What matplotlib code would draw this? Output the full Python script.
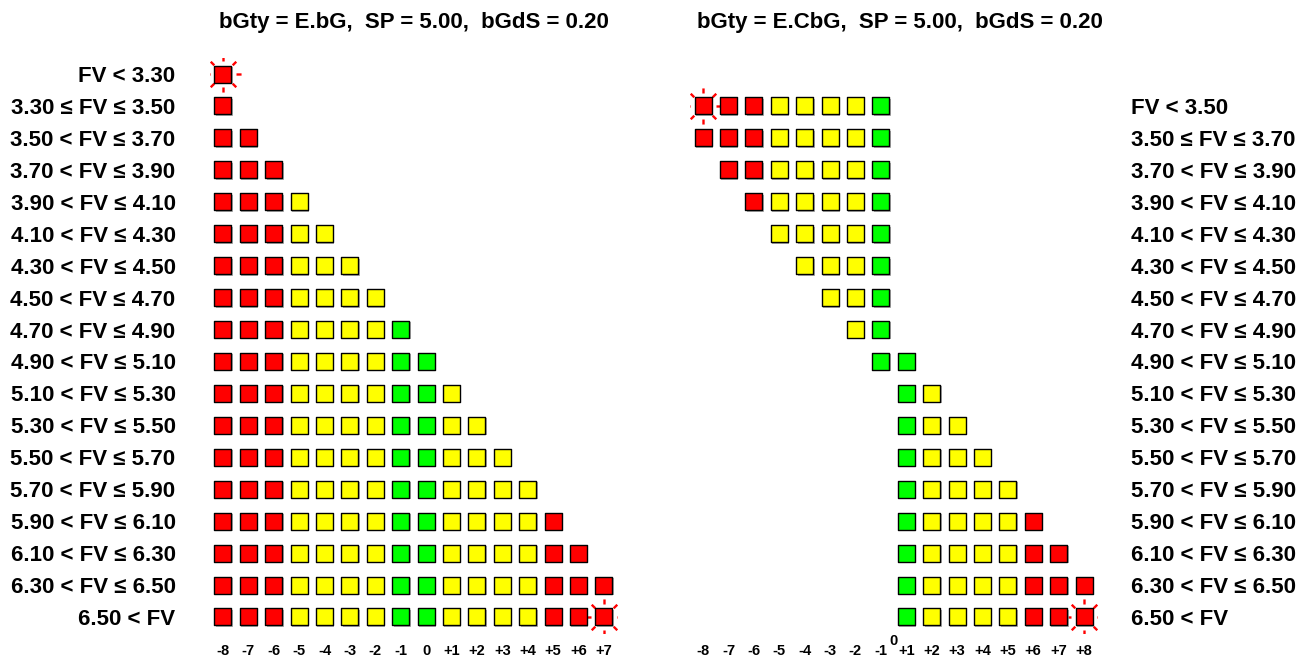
import matplotlib
matplotlib.use("Agg")
import numpy as np
import matplotlib.pyplot as plt
import matplotlib.patheffects as pe
from matplotlib.path import Path

plt.rcParams["font.family"] = ["Liberation Sans", "DejaVu Sans"]
plt.rcParams["font.weight"] = "bold"

# colours used for the grade of each column
palette = {"R": "#FF0000", "Y": "#FFFF00", "G": "#00FF00"}

# left panel
left_title = "bGty = E.bG,  SP = 5.00,  bGdS = 0.20"
left_rows = ["FV < 3.30", "3.30 ≤ FV ≤ 3.50", "3.50 < FV ≤ 3.70", "3.70 < FV ≤ 3.90",
             "3.90 < FV ≤ 4.10", "4.10 < FV ≤ 4.30", "4.30 < FV ≤ 4.50", "4.50 < FV ≤ 4.70",
             "4.70 < FV ≤ 4.90", "4.90 < FV ≤ 5.10", "5.10 < FV ≤ 5.30", "5.30 < FV ≤ 5.50",
             "5.50 < FV ≤ 5.70", "5.70 < FV ≤ 5.90", "5.90 < FV ≤ 6.10", "6.10 < FV ≤ 6.30",
             "6.30 < FV ≤ 6.50", "6.50 < FV"]
left_cols = [-8, -7, -6, -5, -4, -3, -2, -1, 0, 1, 2, 3, 4, 5, 6, 7]
left_grades = ["R", "R", "R", "Y", "Y", "Y", "Y", "G", "G", "Y", "Y", "Y", "Y", "R", "R", "R"]
left_first = [-8] * 18
left_last = [-8, -8, -7, -6, -5, -4, -3, -2, -1, 0, 1, 2, 3, 4, 5, 6, 7, 7]
left_bursts = [(0, -8), (17, 7)]  # (row, column)

# right panel
right_title = "bGty = E.CbG,  SP = 5.00,  bGdS = 0.20"
right_rows = ["FV < 3.50", "3.50 ≤ FV ≤ 3.70", "3.70 < FV ≤ 3.90", "3.90 < FV ≤ 4.10",
              "4.10 < FV ≤ 4.30", "4.30 < FV ≤ 4.50", "4.50 < FV ≤ 4.70", "4.70 < FV ≤ 4.90",
              "4.90 < FV ≤ 5.10", "5.10 < FV ≤ 5.30", "5.30 < FV ≤ 5.50", "5.50 < FV ≤ 5.70",
              "5.70 < FV ≤ 5.90", "5.90 < FV ≤ 6.10", "6.10 < FV ≤ 6.30", "6.30 < FV ≤ 6.50",
              "6.50 < FV"]
right_cols = [-8, -7, -6, -5, -4, -3, -2, -1, 1, 2, 3, 4, 5, 6, 7, 8]
right_grades = ["R", "R", "R", "Y", "Y", "Y", "Y", "G", "G", "Y", "Y", "Y", "Y", "R", "R", "R"]
right_first = [-8, -8, -7, -6, -5, -4, -3, -2, -1, 1, 1, 1, 1, 1, 1, 1, 1]
right_last = [-1, -1, -1, -1, -1, -1, -1, -1, 1, 2, 3, 4, 5, 6, 7, 8, 8]
right_bursts = [(0, -8), (16, 8)]

# starburst marker: 8 short rays
verts, codes = [], []
for a in np.deg2rad(np.arange(0, 360, 45)):
    verts += [(0.72 * np.cos(a), 0.72 * np.sin(a)), (np.cos(a), np.sin(a))]
    codes += [Path.MOVETO, Path.LINETO]
burst = Path(verts, codes)


def col_label(c):
    return "+%d" % c if c > 0 else str(c)


def draw_panel(ax, title, rows, cols, grades, first, last, bursts, title_x):
    xs, ys, cs = [], [], []
    for r in range(len(rows)):
        for i, c in enumerate(cols):
            if first[r] <= c <= last[r]:
                xs.append(i)
                ys.append(r)
                cs.append(palette[grades[i]])
    ax.scatter(xs, ys, s=150, marker="s", c=cs, edgecolors="black", linewidths=1.0,
               zorder=3,
               path_effects=[pe.SimplePatchShadow(offset=(1.0, -1.0), shadow_rgbFace="#999999", alpha=0.8),
                             pe.Normal()])
    for r, c in bursts:
        ax.plot(cols.index(c), r, marker=burst, markersize=26, color="#FF0000",
                markeredgewidth=1.7, linestyle="none", zorder=2)
    ax.set_xlim(-0.5, len(cols) - 0.5)
    ax.set_xticks(range(len(cols)), [col_label(c) for c in cols], fontsize=10.5)
    ax.tick_params(axis="x", length=0, pad=8.2)
    ax.tick_params(axis="y", length=0, pad=25, labelsize=16)
    for s in ax.spines.values():
        s.set_visible(False)
    ax.set_title(title, fontsize=16, fontweight="bold", pad=22, x=title_x)


fig = plt.figure(figsize=(13.07, 6.57), dpi=100)

ax1 = fig.add_axes([0.1609, 0.0366, 0.3109, 0.875])
draw_panel(ax1, left_title, left_rows, left_cols, left_grades, left_first, left_last,
           left_bursts, 0.5)
ax1.set_yticks(range(len(left_rows)), left_rows)
ax1.set_ylim(17.5, -0.5)

ax2 = fig.add_axes([0.5282, 0.0366, 0.3109, 0.875])
draw_panel(ax2, right_title, right_rows, right_cols, right_grades, right_first, right_last,
           right_bursts, 0.516)
ax2.yaxis.tick_right()
ax2.set_yticks(range(len(right_rows)), right_rows)
ax2.set_ylim(16.5, -1.5)
# the zero label sits between -1 and +1, slightly raised
ax2.set_xticks([7.5], ["0"], minor=True, fontsize=10.5)
ax2.tick_params(axis="x", which="minor", length=0, pad=0.5)

fig.savefig("out.png", dpi=100)
